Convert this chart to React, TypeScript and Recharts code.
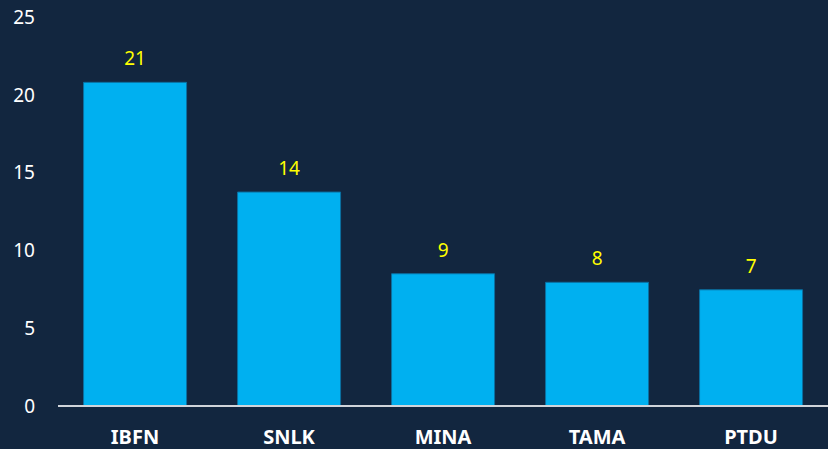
import React from "react";
import { BarChart, Bar, XAxis, YAxis, LabelList } from "recharts";

const categories = ["IBFN", "SNLK", "MINA", "TAMA", "PTDU"];
const values = [20.8, 13.75, 8.5, 7.95, 7.47];
const yTicks = [0, 5, 10, 15, 20, 25];

const data = categories.map((name, i) => ({ name, value: values[i] }));

export default function App() {
  return (
    <div style={{ position: "fixed", top: 0, left: 0, width: 828, height: 449, background: "#12263f", fontFamily: "'Noto Sans', sans-serif" }}>
      <BarChart width={828} height={449} data={data} margin={{ top: 17, right: 0, left: 0, bottom: 0 }} barCategoryGap="16.6%">
        <XAxis
          dataKey="name"
          axisLine={{ stroke: "#d0d4da", strokeWidth: 2 }}
          tickLine={false}
          tickSize={0}
          tickMargin={24}
          height={43}
          tick={{ fill: "#ffffff", fontSize: 20, fontWeight: 700 }}
        />
        <YAxis
          domain={[0, 25]}
          ticks={yTicks}
          axisLine={false}
          tickLine={false}
          tickSize={0}
          tickMargin={23}
          width={58}
          tick={{ fill: "#ffffff", fontSize: 19 }}
        />
        <Bar dataKey="value" fill="#00b0f0" stroke="#0b6fa0" strokeWidth={1} isAnimationActive={false}>
          <LabelList
            dataKey="value"
            position="top"
            offset={17}
            fill="#ffff00"
            fontSize={19}
            formatter={(v: any) => Math.round(Number(v))}
          />
        </Bar>
      </BarChart>
    </div>
  );
}
